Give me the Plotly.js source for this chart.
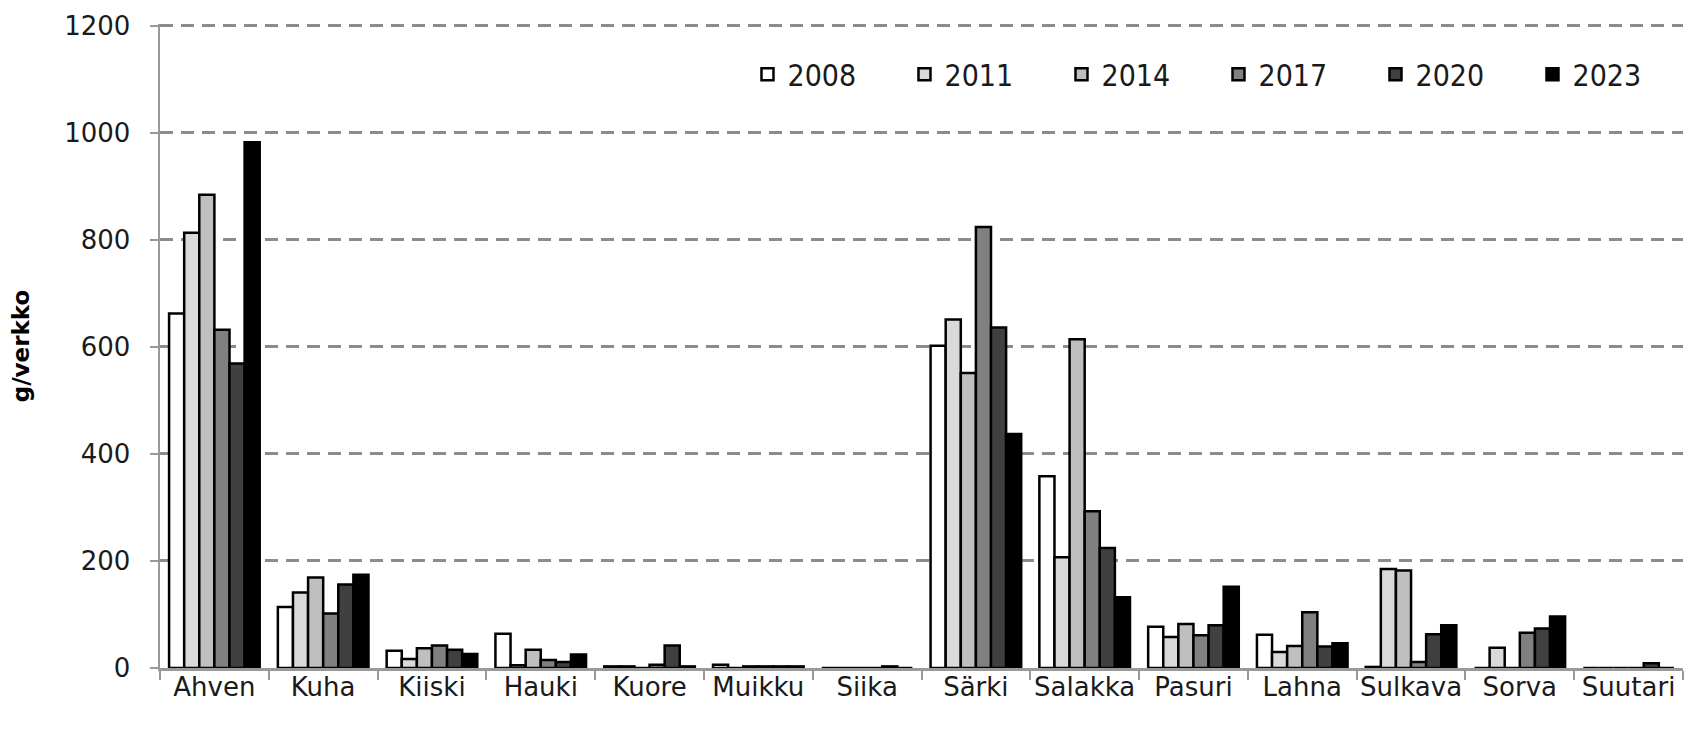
<!DOCTYPE html>
<html>
<head>
<meta charset="utf-8">
<script src="https://cdn.plot.ly/plotly-3.0.1.min.js"></script>
<style>html,body{margin:0;padding:0;background:#fff;}#chart{width:1703px;height:731px;}</style>
</head>
<body>
<div id="chart"></div>
<script>
const categories = ["Ahven","Kuha","Kiiski","Hauki","Kuore","Muikku","Siika","Särki","Salakka","Pasuri","Lahna","Sulkava","Sorva","Suutari"];
const years = ["2008","2011","2014","2017","2020","2023"];
const v2008 = [662, 114, 32, 64, 3, 6, 0, 602, 358, 77, 62, 2, 0, 0];
const v2011 = [813, 141, 17, 5, 3, 0, 0, 651, 207, 58, 30, 185, 38, 0];
const v2014 = [884, 169, 37, 34, 0, 3, 0, 551, 614, 82, 41, 182, 0, 0];
const v2017 = [632, 102, 42, 15, 6, 3, 0, 824, 293, 61, 104, 11, 66, 0];
const v2020 = [569, 156, 34, 11, 42, 3, 3, 636, 224, 80, 40, 63, 74, 9];
const v2023 = [982, 174, 26, 25, 3, 3, 0, 437, 132, 152, 46, 80, 96, 0];
const seriesValues = [v2008, v2011, v2014, v2017, v2020, v2023];
const colors = ["#ffffff","#d9d9d9","#bfbfbf","#808080","#404040","#000000"];
const yTicks = [0, 200, 400, 600, 800, 1000, 1200];

const traces = years.map((y, i) => ({
  type: "bar",
  name: y,
  x: categories,
  y: seriesValues[i],
  marker: {color: colors[i], line: {color: "#000000", width: 2.5}},
  hoverinfo: "x+y+name"
}));

const axisFont = {size: 26, family: "DejaVu Sans, Verdana, sans-serif", color: "#1a1a1a"};

const layout = {
  width: 1703, height: 731,
  margin: {l: 160, r: 20, t: 24, b: 63},
  paper_bgcolor: "#ffffff", plot_bgcolor: "#ffffff",
  barmode: "group", bargap: 0.167, bargroupgap: 0,
  font: {family: "DejaVu Sans, Verdana, sans-serif", color: "#000000"},
  xaxis: {
    type: "category",
    showgrid: false,
    showline: true, linecolor: "#999999", linewidth: 2.5,
    ticks: "outside", tickson: "boundaries", ticklen: 9, tickwidth: 2, tickcolor: "#999999",
    tickangle: 0,
    tickfont: axisFont,
    ticklabelstandoff: -6,
    zeroline: false
  },
  yaxis: {
    range: [0, 1203],
    tickvals: yTicks,
    ticktext: yTicks.map(String),
    showgrid: true, gridcolor: "#8c8c8c", gridwidth: 3, griddash: "13px,8px",
    showline: true, linecolor: "#999999", linewidth: 2.5,
    ticks: "outside", ticklen: 8, tickwidth: 2, tickcolor: "#999999",
    tickfont: axisFont,
    ticklabelstandoff: 14,
    zeroline: false,
    title: {text: "g/verkko", font: {size: 23, family: "DejaVu Sans, Verdana, sans-serif", weight: "bold", color: "#000000"}, standoff: 28}
  },
  showlegend: true,
  legend: {
    orientation: "h",
    x: 0.695, xanchor: "center",
    y: 0.922, yanchor: "middle",
    bgcolor: "rgba(0,0,0,0)",
    font: {size: 30, family: "DejaVu Sans Condensed, DejaVu Sans, sans-serif", color: "#1a1a1a"},
    entrywidth: 112, entrywidthmode: "pixels",
    itemwidth: 30,
    traceorder: "normal"
  }
};

Plotly.newPlot("chart", traces, layout, {displayModeBar: false, staticPlot: true});
</script>
</body>
</html>
